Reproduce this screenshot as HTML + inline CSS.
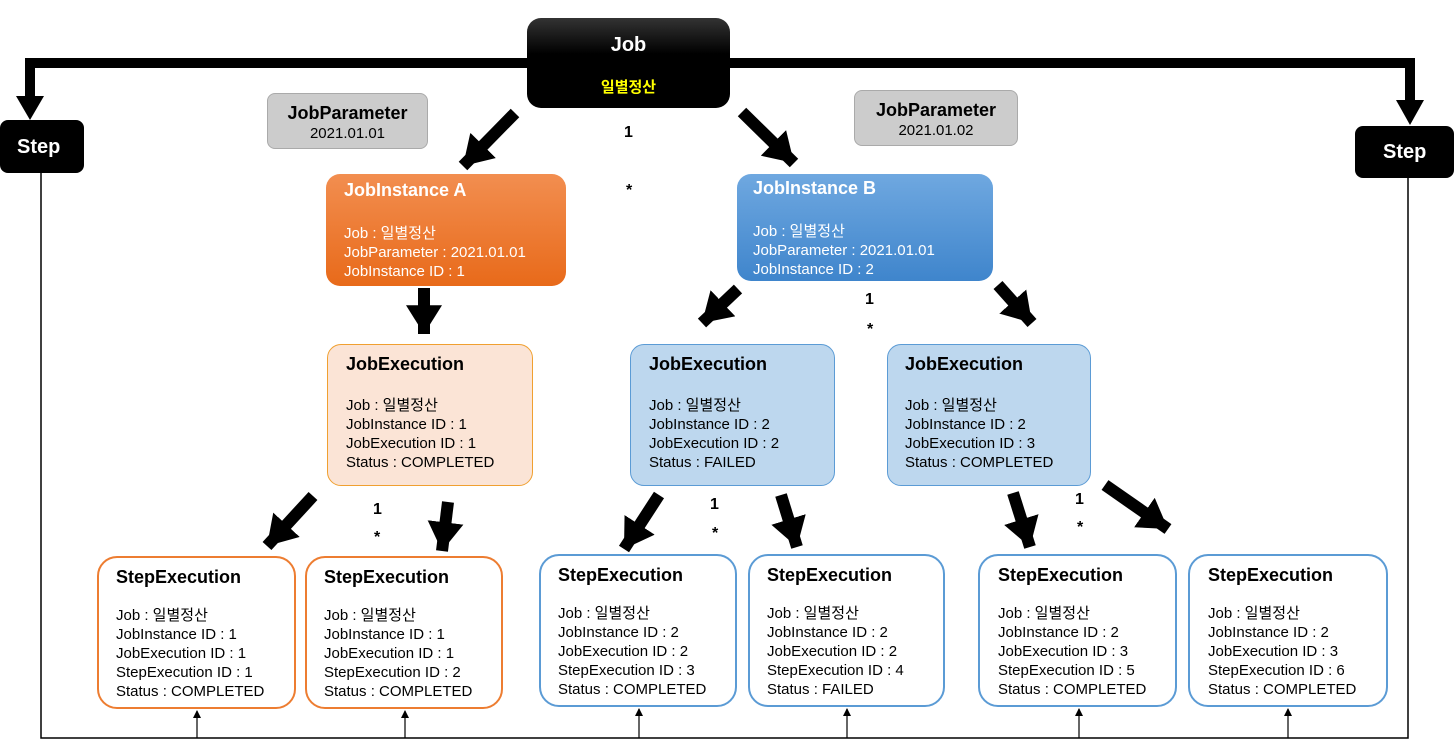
<!DOCTYPE html>
<html><head><meta charset="utf-8"><style>
body{margin:0;width:1454px;height:751px;background:#fff;position:relative;overflow:hidden;font-family:"Liberation Sans","Noto Sans CJK KR",sans-serif;}
.b{position:absolute;box-sizing:border-box;border-radius:14px;}
.t{font-weight:bold;font-size:18px;}
.l{font-size:15px;line-height:19px;}
.k{position:absolute;font-weight:bold;font-size:16px;}
svg{position:absolute;left:0;top:0;}
</style></head><body>
<svg width="1454" height="751">
<defs><marker id="h" markerWidth="3" markerHeight="3" refX="2.4" refY="1.5" orient="auto" markerUnits="strokeWidth"><path d="M0,0 L2.4,1.5 L0,3 Z" fill="#000"/></marker>
<marker id="s" markerWidth="8" markerHeight="8" refX="7" refY="4" orient="auto" markerUnits="userSpaceOnUse"><path d="M0,0 L8,4 L0,8 Z" fill="#000"/></marker></defs>
<g fill="none" stroke="#000">
<polyline points="41,173 41,738 1408,738 1408,178" stroke-width="1.5"/>
<polyline points="530,63 30,63 30,98" stroke-width="10"/>
<polyline points="728,63 1410,63 1410,102" stroke-width="10"/>
</g>
<path d="M16,96 L44,96 L30,120 Z"/><path d="M1396,100 L1424,100 L1410,125 Z"/>
<g stroke="#000" stroke-width="12" marker-end="url(#h)">
<line x1="515" y1="113" x2="463" y2="166"/>
<line x1="742" y1="112" x2="794" y2="163"/>
<line x1="424" y1="288" x2="424" y2="334"/>
<line x1="738" y1="289" x2="702" y2="323"/>
<line x1="998" y1="285" x2="1032" y2="323"/>
<line x1="313" y1="496" x2="267" y2="546"/>
<line x1="448" y1="502" x2="442" y2="551"/>
<line x1="659" y1="495" x2="624" y2="549"/>
<line x1="781" y1="495" x2="797" y2="547"/>
<line x1="1013" y1="493" x2="1030" y2="547"/>
<line x1="1105" y1="485" x2="1168" y2="529"/>
</g>
<g stroke="#000" stroke-width="1.2" marker-end="url(#s)">
<line x1="197" y1="738" x2="197" y2="711"/><line x1="405" y1="738" x2="405" y2="711"/>
<line x1="639" y1="738" x2="639" y2="709"/><line x1="847" y1="738" x2="847" y2="709"/>
<line x1="1079" y1="738" x2="1079" y2="709"/><line x1="1288" y1="738" x2="1288" y2="709"/>
</g>
</svg>
<div class="b" style="left:527px;top:18px;width:203px;height:90px;background:linear-gradient(#333,#000 40%);color:#fff;text-align:center;"><div class="t" style="margin-top:16px;font-size:20px">Job</div><div style="color:#ff0;font-weight:bold;font-size:15px;margin-top:19px">일별정산</div></div>
<div class="b" style="left:0;top:120px;width:84px;height:53px;background:#000;color:#fff;border-radius:8px;"><div class="t" style="padding:16px 0 0 17px;font-size:20px">Step</div></div>
<div class="b" style="left:1355px;top:126px;width:99px;height:52px;background:#000;color:#fff;border-radius:8px;"><div class="t" style="padding:15px 0 0 28px;font-size:20px">Step</div></div>
<div class="b" style="left:267px;top:93px;width:161px;height:56px;background:#ccc;border:1px solid #aaa;border-radius:8px;text-align:center;"><div class="t" style="margin-top:9px">JobParameter</div><div class="l">2021.01.01</div></div>
<div class="b" style="left:854px;top:90px;width:164px;height:56px;background:#ccc;border:1px solid #aaa;border-radius:8px;text-align:center;"><div class="t" style="margin-top:9px">JobParameter</div><div class="l">2021.01.02</div></div>
<div class="b" style="left:326px;top:174px;width:240px;height:112px;background:linear-gradient(#f28e50,#e86a1a);color:#fff;padding:6px 18px;"><div class="t">JobInstance A</div><div class="l" style="margin-top:23px">Job : 일별정산<br>JobParameter : 2021.01.01<br>JobInstance ID : 1</div></div>
<div class="b" style="left:737px;top:174px;width:256px;height:107px;background:linear-gradient(#6fa8e0,#3f85cc);color:#fff;padding:4px 16px;"><div class="t">JobInstance B</div><div class="l" style="margin-top:23px">Job : 일별정산<br>JobParameter : 2021.01.01<br>JobInstance ID : 2</div></div>
<div class="b" style="left:327px;top:344px;width:206px;height:142px;background:#fbe4d6;border:1.5px solid #f0a030;padding:9px 18px;"><div class="t">JobExecution</div><div class="l" style="margin-top:21px">Job : 일별정산<br>JobInstance ID : 1<br>JobExecution ID : 1<br>Status : COMPLETED</div></div>
<div class="b" style="left:630px;top:344px;width:205px;height:142px;background:#bdd7ee;border:1.5px solid #5b9bd5;padding:9px 18px;"><div class="t">JobExecution</div><div class="l" style="margin-top:21px">Job : 일별정산<br>JobInstance ID : 2<br>JobExecution ID : 2<br>Status : FAILED</div></div>
<div class="b" style="left:887px;top:344px;width:204px;height:142px;background:#bdd7ee;border:1.5px solid #5b9bd5;padding:9px 17px;"><div class="t">JobExecution</div><div class="l" style="margin-top:21px">Job : 일별정산<br>JobInstance ID : 2<br>JobExecution ID : 3<br>Status : COMPLETED</div></div>
<div class="b" style="left:97px;top:556px;width:199px;height:153px;border:2px solid #ed7d31;border-radius:20px;padding:9px 17px;"><div class="t">StepExecution</div><div class="l" style="margin-top:18px">Job : 일별정산<br>JobInstance ID : 1<br>JobExecution ID : 1<br>StepExecution ID : 1<br>Status : COMPLETED</div></div>
<div class="b" style="left:305px;top:556px;width:198px;height:153px;border:2px solid #ed7d31;border-radius:20px;padding:9px 17px;"><div class="t">StepExecution</div><div class="l" style="margin-top:18px">Job : 일별정산<br>JobInstance ID : 1<br>JobExecution ID : 1<br>StepExecution ID : 2<br>Status : COMPLETED</div></div>
<div class="b" style="left:539px;top:554px;width:198px;height:153px;border:2px solid #5b9bd5;border-radius:20px;padding:9px 17px;"><div class="t">StepExecution</div><div class="l" style="margin-top:18px">Job : 일별정산<br>JobInstance ID : 2<br>JobExecution ID : 2<br>StepExecution ID : 3<br>Status : COMPLETED</div></div>
<div class="b" style="left:748px;top:554px;width:197px;height:153px;border:2px solid #5b9bd5;border-radius:20px;padding:9px 17px;"><div class="t">StepExecution</div><div class="l" style="margin-top:18px">Job : 일별정산<br>JobInstance ID : 2<br>JobExecution ID : 2<br>StepExecution ID : 4<br>Status : FAILED</div></div>
<div class="b" style="left:978px;top:554px;width:199px;height:153px;border:2px solid #5b9bd5;border-radius:20px;padding:9px 18px;"><div class="t">StepExecution</div><div class="l" style="margin-top:18px">Job : 일별정산<br>JobInstance ID : 2<br>JobExecution ID : 3<br>StepExecution ID : 5<br>Status : COMPLETED</div></div>
<div class="b" style="left:1188px;top:554px;width:200px;height:153px;border:2px solid #5b9bd5;border-radius:20px;padding:9px 18px;"><div class="t">StepExecution</div><div class="l" style="margin-top:18px">Job : 일별정산<br>JobInstance ID : 2<br>JobExecution ID : 3<br>StepExecution ID : 6<br>Status : COMPLETED</div></div>
<div class="k" style="left:624px;top:124px">1</div><div class="k" style="left:626px;top:182px">*</div>
<div class="k" style="left:865px;top:291px">1</div><div class="k" style="left:867px;top:321px">*</div>
<div class="k" style="left:373px;top:501px">1</div><div class="k" style="left:374px;top:529px">*</div>
<div class="k" style="left:710px;top:496px">1</div><div class="k" style="left:712px;top:525px">*</div>
<div class="k" style="left:1075px;top:491px">1</div><div class="k" style="left:1077px;top:519px">*</div>
</body></html>
